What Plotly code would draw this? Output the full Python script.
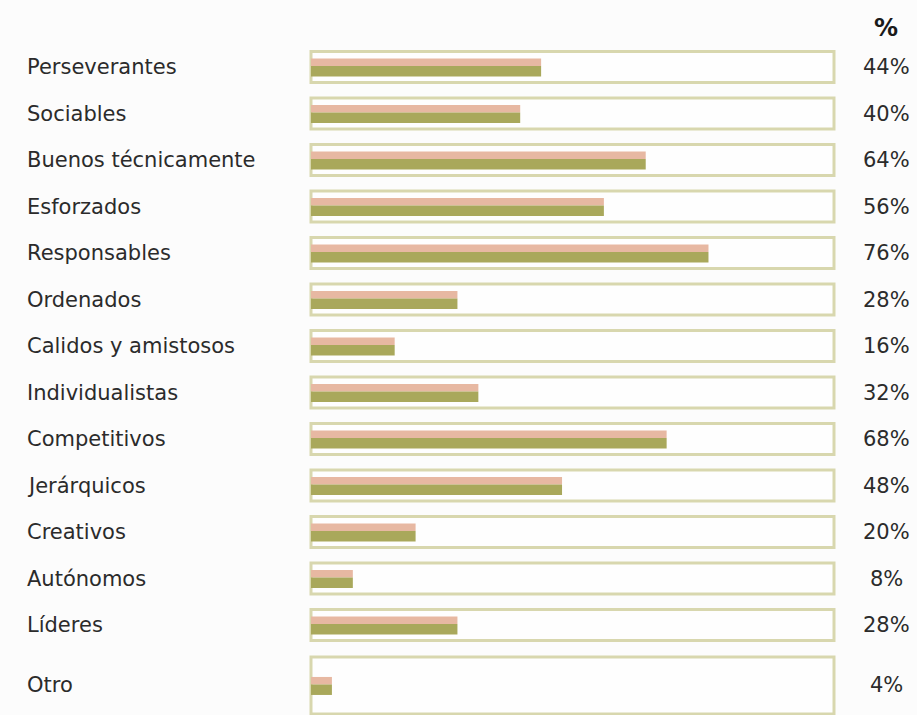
import plotly.graph_objects as go

categories = ["Perseverantes", "Sociables", "Buenos técnicamente", "Esforzados",
              "Responsables", "Ordenados", "Calidos y amistosos", "Individualistas",
              "Competitivos", "Jerárquicos", "Creativos", "Autónomos", "Líderes", "Otro"]
values = [44, 40, 64, 56, 76, 28, 16, 32, 68, 48, 20, 8, 28, 4]
header = "%"

W, H = 917, 715
ROW_PX = 46.5          # pixel spacing of rows
FIRST_PX = 67          # pixel centre of first row
PX_PER_PCT = 5.23
X0_PX = 311

n = len(categories)
# the last row ("Otro") sits a bit lower and in a taller frame
pos = [i if i < n - 1 else 13.30 for i in range(n)]
box_h = [31 / ROW_PX if i < n - 1 else 57 / ROW_PX for i in range(n)]

y_top = -FIRST_PX / ROW_PX
y_bot = (H - FIRST_PX) / ROW_PX
x_left = -X0_PX / PX_PER_PCT
x_right = (W - X0_PX) / PX_PER_PCT

fig = go.Figure()

# frames (100 % width)
fig.add_trace(go.Bar(
    y=pos, x=[100] * n, orientation="h", base=0,
    width=box_h, offset=[-h / 2 for h in box_h],
    marker=dict(color="#FEFEFE", line=dict(color="#D8D7AE", width=3)),
    hoverinfo="skip", showlegend=False))

# pink strip
fig.add_trace(go.Bar(
    y=pos, x=values, orientation="h", base=0,
    width=7.5 / ROW_PX, offset=-8.5 / ROW_PX,
    marker=dict(color="#E7B8A2", line=dict(width=0)),
    hoverinfo="skip", showlegend=False))

# olive strip
fig.add_trace(go.Bar(
    y=pos, x=values, orientation="h", base=0,
    width=10.5 / ROW_PX, offset=-1 / ROW_PX,
    marker=dict(color="#A9A85B", line=dict(width=0)),
    hovertemplate="%{x}%<extra></extra>", showlegend=False))

annotations = []
for c, v, p in zip(categories, values, pos):
    annotations.append(dict(text=c, xref="paper", x=25 / W, xanchor="left",
                            yref="y", y=p, yanchor="middle", showarrow=False,
                            font=dict(family="DejaVu Sans", size=21, color="#2B2B2B")))
    annotations.append(dict(text=f"{v}%", xref="paper", x=886 / W, xanchor="center",
                            yref="y", y=p, yanchor="middle", showarrow=False,
                            font=dict(family="DejaVu Sans", size=21, color="#2B2B2B")))
annotations.append(dict(text=f"<b>{header}</b>", xref="paper", x=886 / W, xanchor="center",
                        yref="y", y=(28 - FIRST_PX) / ROW_PX, yanchor="middle",
                        showarrow=False,
                        font=dict(family="DejaVu Sans", size=24, color="#1A1A1A")))

fig.update_layout(
    width=W, height=H,
    margin=dict(l=0, r=0, t=0, b=0),
    paper_bgcolor="#FCFCFC", plot_bgcolor="#FCFCFC",
    barmode="overlay",
    xaxis=dict(range=[x_left, x_right], visible=False, fixedrange=True),
    yaxis=dict(range=[y_bot, y_top], visible=False, fixedrange=True),
    annotations=annotations,
    showlegend=False,
)

fig.write_html("out.html", config={"displayModeBar": False},
               post_script="document.body.style.margin='0';"
                           "document.body.style.overflow='hidden';"
                           "document.body.style.background='#FCFCFC';")
